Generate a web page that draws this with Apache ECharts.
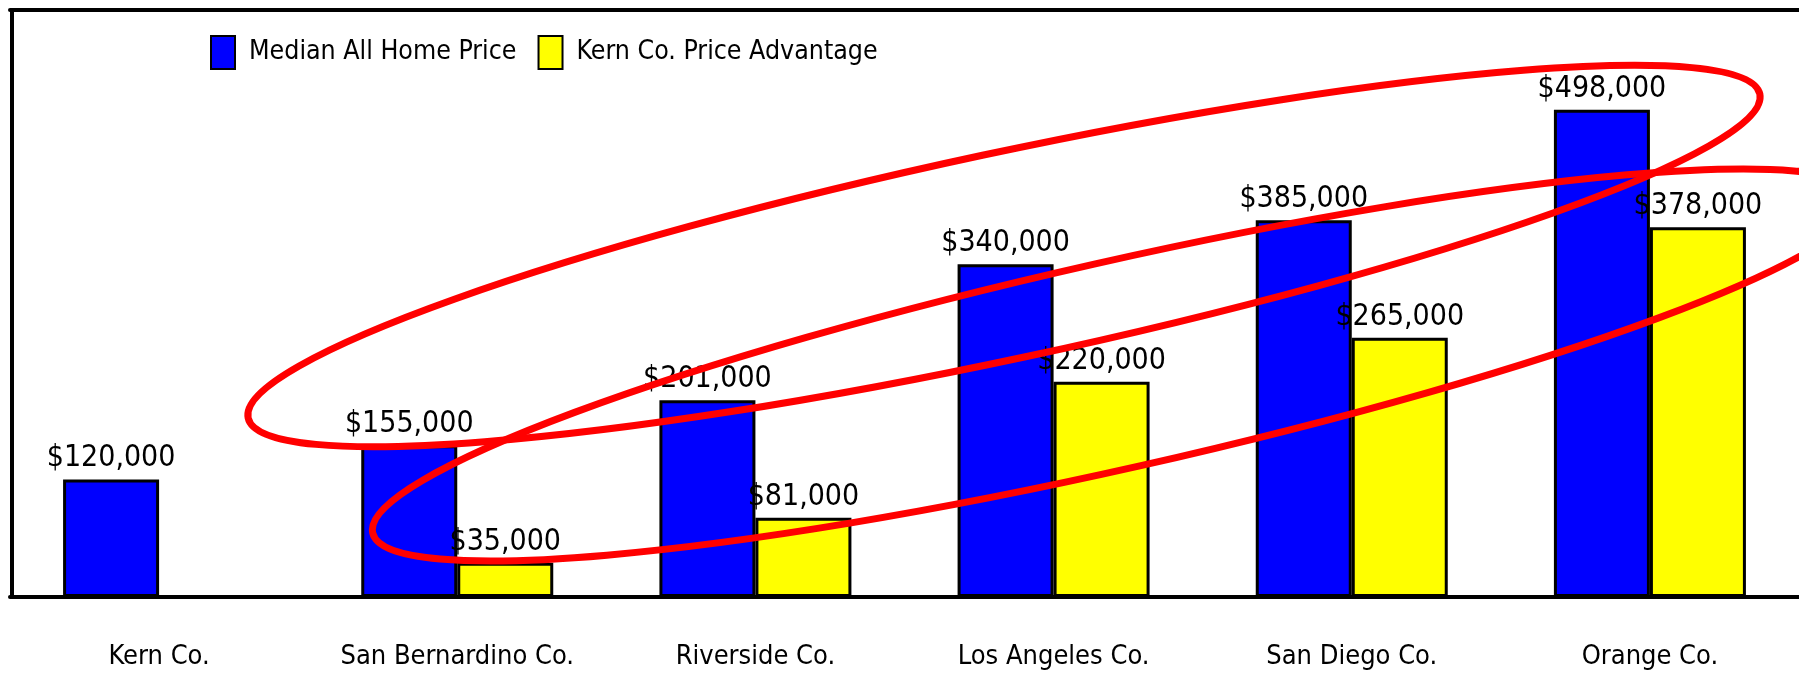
<!DOCTYPE html>
<html>
<head>
<meta charset="utf-8">
<title>Median Home Price</title>
<script src="https://cdn.jsdelivr.net/npm/echarts@6/dist/echarts.min.js"></script>
<style>
    html, body { margin: 0; padding: 0; background: #fff; }
    #chart { width: 1799px; height: 673px; }
</style>
</head>
<body>
<div id="chart"></div>
<script>
// data
var counties = ['Kern Co.', 'San Bernardino Co.', 'Riverside Co.', 'Los Angeles Co.', 'San Diego Co.', 'Orange Co.'];
var medianPrice = [120000, 155000, 201000, 340000, 385000, 498000];
var kernAdvantage = [null, 35000, 81000, 220000, 265000, 378000];
var seriesNames = ['Median All Home Price', 'Kern Co. Price Advantage'];

var narrow = "'Liberation Sans Narrow', 'DejaVu Sans Condensed', 'Arial Narrow', sans-serif";

function money(p) {
    return '$' + Number(p.value).toLocaleString('en-US');
}

var mychart = echarts.init(document.getElementById('chart'));
mychart.setOption({
    backgroundColor: '#fff',
    animation: false,
    legend: {
        left: 210,
        top: 35,
        padding: 0,
        itemWidth: 24,
        itemHeight: 33,
        itemGap: 21,
        icon: 'rect',
        data: seriesNames,
        textStyle: {
            color: '#000',
            fontFamily: narrow,
            fontSize: 26.5,
            padding: [0, 0, 0, 9]
        }
    },
    grid: {
        left: 10,
        right: 0,
        top: 10,
        bottom: 76
    },
    xAxis: [
        {
            type: 'category',
            data: counties,
            axisLine: { lineStyle: { color: '#000', width: 4 } },
            axisTick: { show: false },
            axisLabel: {
                color: '#000',
                fontFamily: narrow,
                fontSize: 27,
                margin: 46,
                interval: 0
            }
        },
        {
            // top edge of the frame
            type: 'category',
            position: 'top',
            data: counties,
            axisLine: { lineStyle: { color: '#000', width: 4 } },
            axisTick: { show: false },
            axisLabel: { show: false }
        }
    ],
    yAxis: {
        type: 'value',
        min: 0,
        max: 600000,
        offset: -2,
        axisLine: { show: true, lineStyle: { color: '#000', width: 4 } },
        axisTick: { show: false },
        axisLabel: { show: false },
        splitLine: { show: false }
    },
    series: [
        {
            name: seriesNames[0],
            type: 'bar',
            data: medianPrice,
            barWidth: 96,
            barGap: '0%',
            itemStyle: { color: '#0000ff', borderColor: '#000', borderWidth: 3 },
            label: {
                show: true,
                position: 'top',
                distance: 6,
                color: '#000',
                fontFamily: narrow,
                fontSize: 30,
                formatter: money
            }
        },
        {
            name: seriesNames[1],
            type: 'bar',
            data: kernAdvantage,
            barWidth: 96,
            itemStyle: { color: '#ffff00', borderColor: '#000', borderWidth: 3 },
            label: {
                show: true,
                position: 'top',
                distance: 6,
                color: '#000',
                fontFamily: narrow,
                fontSize: 30,
                formatter: money
            }
        }
    ],
    // hand drawn red rings on the picture
    graphic: [
        {
            type: 'ellipse',
            x: 1004,
            y: 256,
            rotation: 0.211,
            z: 100,
            shape: { cx: 0, cy: 0, rx: 773, ry: 103 },
            style: { fill: 'none', stroke: '#ff0000', lineWidth: 7 }
        },
        {
            type: 'ellipse',
            x: 1117,
            y: 365,
            rotation: 0.222,
            z: 100,
            shape: { cx: 0, cy: 0, rx: 763, ry: 103.5 },
            style: { fill: 'none', stroke: '#ff0000', lineWidth: 7 }
        }
    ]
});
</script>
</body>
</html>
